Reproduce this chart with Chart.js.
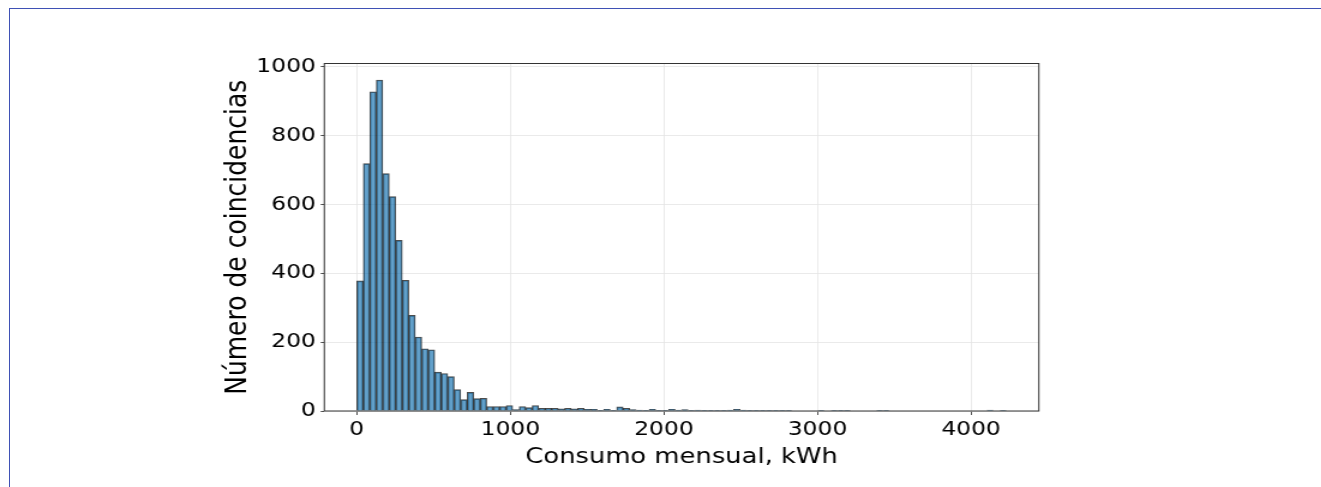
<!DOCTYPE html>
<html>
<head>
<meta charset="utf-8">
<script src="https://cdn.jsdelivr.net/npm/chart.js@4"></script>
<style>
  html, body { margin: 0; padding: 0; background: #fff; overflow: hidden; }
  #frame {
    position: absolute; left: 9px; top: 8px; width: 1400px; height: 600px;
    border-top: 1.5px solid rgb(63, 81, 181);
    border-left: 1.5px solid rgb(63, 81, 181);
  }
  #wrap {
    position: absolute; left: 0; top: 0; width: 1101px; height: 487px;
    transform: scaleX(1.2); transform-origin: 0 0;
  }
</style>
</head>
<body>
<div id="frame"></div>
<div id="wrap"><canvas id="hist-chart" width="1101" height="487"></canvas></div>
<script>
// histogram of monthly consumption, 100 bins from 0 to 4230 kWh
const binStart = 0;
const binWidth = 42.3;
const counts = [
  378, 719, 928, 962, 690, 623, 496, 380, 278, 215,
  181, 178, 113, 109, 100, 62, 33, 54, 36, 37,
  13, 13, 13, 16, 4, 13, 10, 16, 8, 8,
  8, 6, 8, 6, 8, 5, 5, 2, 5, 2,
  12, 8, 4, 3, 2, 5, 2, 1, 5, 3,
  4, 2, 3, 1, 1, 2, 2, 3, 5, 3,
  2, 1, 2, 2, 2, 1, 2, 0, 0, 0,
  0, 1, 0, 1, 1, 1, 0, 0, 0, 0,
  1, 1, 0, 0, 0, 0, 0, 0, 0, 0,
  0, 0, 0, 0, 0, 0, 0, 3, 0, 1
];
const xTicks = [0, 1000, 2000, 3000, 4000];
const yTicks = [0, 200, 400, 600, 800, 1000];
const xRange = [-211.5, 4441.5];
const yRange = [0, 1010];

const points = counts.map((c, i) => ({ x: binStart + binWidth * (i + 0.5), y: c }));

const frame = {
  id: 'frame',
  afterDraw(chart) {
    const a = chart.chartArea;
    const ctx = chart.ctx;
    ctx.save();
    ctx.strokeStyle = '#333';
    ctx.lineWidth = 1;
    ctx.strokeRect(a.left, a.top, a.right - a.left, a.bottom - a.top);
    ctx.restore();
  }
};

const tickFont = { family: 'DejaVu Sans', size: 19.5 };

const ctx = document.getElementById('hist-chart').getContext('2d');
const myChart = new Chart(ctx, {
  type: 'bar',
  data: {
    datasets: [{
      data: points,
      backgroundColor: 'rgba(31, 119, 180, 0.7)',
      borderColor: 'rgba(0, 0, 0, 0.7)',
      borderWidth: 1,
      barPercentage: 1,
      categoryPercentage: 1
    }]
  },
  plugins: [frame],
  options: {
    responsive: false,
    animation: false,
    devicePixelRatio: 1,
    layout: { padding: { left: 170, top: 63.5, right: 235.3, bottom: 0 } },
    plugins: { legend: { display: false }, tooltip: { enabled: false } },
    scales: {
      x: {
        type: 'linear',
        offset: false,
        min: xRange[0],
        max: xRange[1],
        afterBuildTicks: (s) => { s.ticks = xTicks.map(v => ({ value: v })); },
        afterFit: (s) => { s.height = 76; },
        border: { display: false },
        grid: { offset: false, color: '#e4e4e4', lineWidth: 0.8, tickColor: '#222', tickLength: 4 },
        ticks: { color: '#000', font: tickFont, padding: 3, maxRotation: 0, callback: (v) => String(v) },
        title: {
          display: true, text: 'Consumo mensual, kWh', color: '#000',
          font: { family: 'DejaVu Sans', size: 21.5 }, padding: { top: 0, bottom: 16.5 }
        }
      },
      y: {
        min: yRange[0],
        max: yRange[1],
        afterBuildTicks: (s) => { s.ticks = yTicks.map(v => ({ value: v })); },
        afterFit: (s) => { s.width = 100.25; },
        border: { display: false },
        grid: { color: '#e4e4e4', lineWidth: 0.8, tickColor: '#222', tickLength: 3 },
        ticks: { color: '#000', font: tickFont, padding: 4, callback: (v) => String(v) },
        title: {
          display: true, text: 'Número de coincidencias', color: '#000',
          font: { family: 'DejaVu Sans', size: 25 }, padding: { top: 13.3, bottom: 0 }
        }
      }
    }
  }
});
</script>
</body>
</html>
